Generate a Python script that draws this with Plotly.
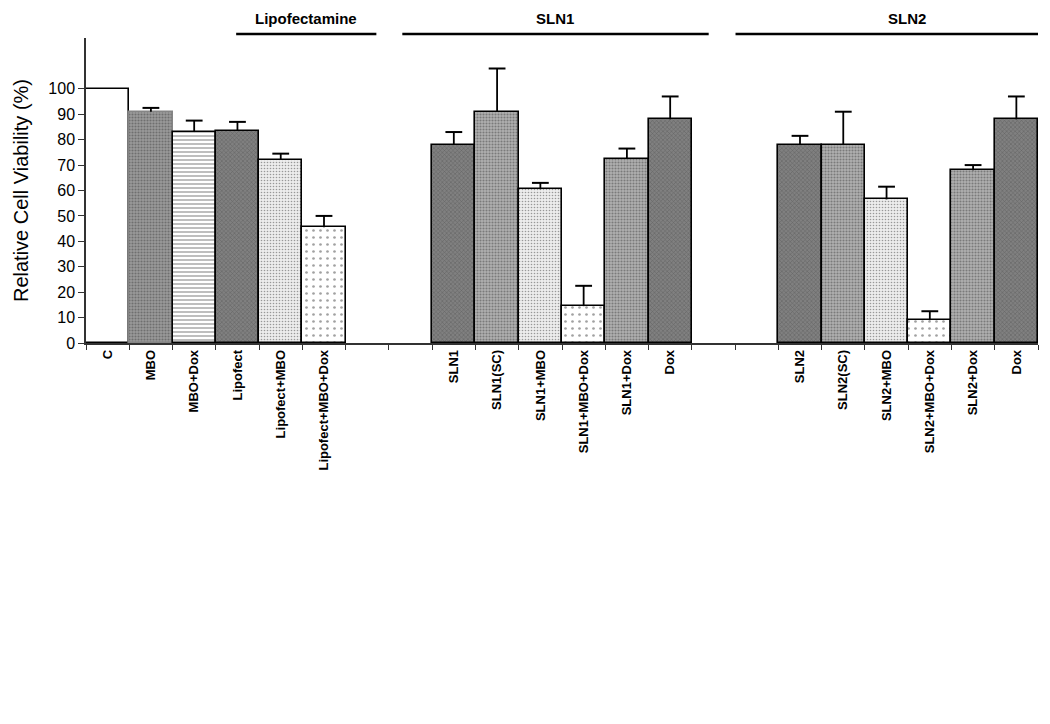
import plotly.graph_objects as go

# ---- data ----
keys = ["C", "MBO", "MBO+Dox", "Lipofect", "Lipofect+MBO", "Lipofect+MBO+Dox",
        "gap1", "gap2",
        "SLN1", "SLN1(SC)", "SLN1+MBO", "SLN1+MBO+Dox", "SLN1+Dox", "Dox_1",
        "gap3", "gap4",
        "SLN2", "SLN2(SC)", "SLN2+MBO", "SLN2+MBO+Dox", "SLN2+Dox", "Dox_2"]
labels = ["C", "MBO", "MBO+Dox", "Lipofect", "Lipofect+MBO", "Lipofect+MBO+Dox",
          "", "",
          "SLN1", "SLN1(SC)", "SLN1+MBO", "SLN1+MBO+Dox", "SLN1+Dox", "Dox",
          "", "",
          "SLN2", "SLN2(SC)", "SLN2+MBO", "SLN2+MBO+Dox", "SLN2+Dox", "Dox"]
values = [100, 91, 83, 83.5, 72, 45.5,
          None, None,
          78, 91, 60.5, 14.5, 72.5, 88,
          None, None,
          78, 78, 56.5, 9, 68, 88]
errors = [0, 1.5, 4.5, 3.5, 2.5, 4.5,
          0, 0,
          5, 17, 2.5, 8, 4, 9,
          0, 0,
          3.5, 13, 5, 3.5, 2, 9]
y_ticks = [0, 10, 20, 30, 40, 50, 60, 70, 80, 90, 100]
groups = ["Lipofectamine", "SLN1", "SLN2"]

# ---- styles ----
STY = {
    "white":  dict(bg="white",   shape="",  fg="black",   size=8, sol=0.1,  line="black"),
    "mbo":    dict(bg="#9a9a9a", shape=".", fg="#6e6e6e", size=3, sol=0.4,  line="#858585"),
    "hline":  dict(bg="white",   shape="-", fg="black",   size=4, sol=0.35, line="black"),
    "dark":   dict(bg="#808080", shape="x", fg="black",   size=3, sol=0.32, line="black"),
    "light":  dict(bg="#ececec", shape=".", fg="black",   size=3, sol=0.22, line="black"),
    "sparse": dict(bg="white",   shape=".", fg="black",   size=7, sol=0.12, line="black"),
    "medium": dict(bg="#b0b0b0", shape=".", fg="#404040", size=3, sol=0.4,  line="black"),
}
bar_styles = ["white", "mbo", "hline", "dark", "light", "sparse",
              "white", "white",
              "dark", "medium", "light", "sparse", "medium", "dark",
              "white", "white",
              "dark", "medium", "light", "sparse", "medium", "dark"]

fig = go.Figure()
fig.add_trace(go.Bar(
    x=keys, y=values,
    marker=dict(
        color=[STY[s]["bg"] for s in bar_styles],
        line=dict(color=[STY[s]["line"] for s in bar_styles], width=1.6),
        pattern=dict(
            shape=[STY[s]["shape"] for s in bar_styles],
            fgcolor=[STY[s]["fg"] for s in bar_styles],
            size=[STY[s]["size"] for s in bar_styles],
            solidity=[STY[s]["sol"] for s in bar_styles],
            fillmode="overlay",
        ),
    ),
    showlegend=False, hoverinfo="x+y",
))

# upper-only error bars: stem from bar top up to value+error, with a cap
stem_x, stem_y, cap_x, cap_y = [], [], [], []
for k, v, e in zip(keys, values, errors):
    if v is None or not e:
        continue
    stem_x += [k, k, None]
    stem_y += [v, v + e, None]
    cap_x.append(k)
    cap_y.append(v + e)
fig.add_trace(go.Scatter(x=stem_x, y=stem_y, mode="lines",
                         line=dict(color="black", width=1.8),
                         showlegend=False, hoverinfo="skip"))
fig.add_trace(go.Scatter(x=cap_x, y=cap_y, mode="markers",
                         marker=dict(symbol="line-ew", size=12,
                                     line=dict(color="black", width=2)),
                         showlegend=False, hoverinfo="skip"))

font_family = "Arial, Liberation Sans, sans-serif"

fig.update_layout(
    width=1050, height=724,
    margin=dict(l=78, r=20, t=30, b=389),
    paper_bgcolor="white", plot_bgcolor="white",
    bargap=0,
    font=dict(family=font_family, color="black"),
    xaxis=dict(
        type="category", categoryorder="array", categoryarray=keys,
        tickmode="array", tickvals=keys, ticktext=labels,
        tickangle=-90, tickson="boundaries", ticks="outside", ticklen=5,
        tickcolor="#333", showline=True, linecolor="#333", linewidth=1.5,
        tickfont=dict(family=font_family, size=13, weight="bold", color="black"),
        showgrid=False, range=[-0.5, len(keys) - 0.5], automargin=False,
    ),
    yaxis=dict(
        range=[0, 120], tickmode="array", tickvals=y_ticks,
        ticks="outside", ticklen=6, tickcolor="#333",
        showline=True, linecolor="#333", linewidth=1.5,
        showgrid=False, zeroline=False, automargin=False,
        tickfont=dict(family=font_family, size=16, color="black"),
        title=dict(text="Relative Cell Viability (%)",
                   font=dict(family=font_family, size=20, color="black"),
                   standoff=14),
    ),
)

# group header lines and labels
line_spans = [(2.97, 6.21), (6.81, 13.89), (14.51, 21.59)]
text_pos = [4.58, 10.33, 18.47]
for g, (a, b), tx in zip(groups, line_spans, text_pos):
    fig.add_shape(type="line", xref="x", yref="paper", x0=a, x1=b,
                  y0=1.013, y1=1.013, line=dict(color="black", width=2.5))
    fig.add_annotation(xref="x", yref="paper", x=tx, y=1.065, text=g,
                       showarrow=False, yanchor="middle",
                       font=dict(family=font_family, size=15, weight="bold",
                                 color="black"))

fig.write_html("out.html")
